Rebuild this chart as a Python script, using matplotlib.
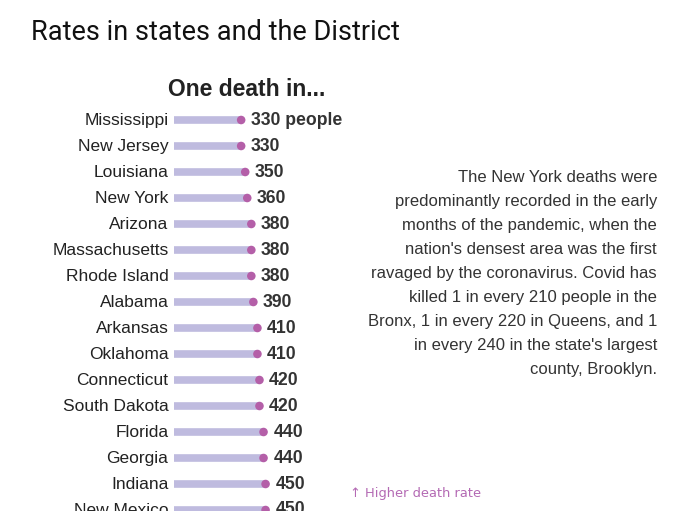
import matplotlib
matplotlib.use("Agg")
import matplotlib.pyplot as plt

states = ["Mississippi", "New Jersey", "Louisiana", "New York", "Arizona",
          "Massachusetts", "Rhode Island", "Alabama", "Arkansas", "Oklahoma",
          "Connecticut", "South Dakota", "Florida", "Georgia", "Indiana",
          "New Mexico"]
one_death_in = [330, 330, 350, 360, 380, 380, 380, 390, 410, 410,
                420, 420, 440, 440, 450, 450]

note_lines = [
    "The New York deaths were",
    "predominantly recorded in the early",
    "months of the pandemic, when the",
    "nation's densest area was the first",
    "ravaged by the coronavirus. Covid has",
    "killed 1 in every 210 people in the",
    "Bronx, 1 in every 220 in Queens, and 1",
    "in every 240 in the state's largest",
    "county, Brooklyn.",
]

W, H = 699, 511
BAR_COLOR = "#bfbbdf"
DOT_COLOR = "#b45fa8"
TEXT = "#333333"
FONT = "Liberation Sans"

fig = plt.figure(figsize=(W / 100, H / 100), dpi=100)

# bar axes: x=0 at 174px, ~0.2035 px per person; rows 26px apart starting at y=120
x0_px, px_per_unit = 174, 0.2035
xmax = 600
ax_w = xmax * px_per_unit
row0_px, row_h = 120, 26
top_px = row0_px - row_h / 2
ax = fig.add_axes([x0_px / W, 0, ax_w / W, (H - top_px) / H])
ax.set_xlim(0, xmax)
ax.set_ylim((H - row0_px) / row_h, -0.5)
ax.axis("off")

for i, (name, val) in enumerate(zip(states, one_death_in)):
    ax.plot([0, val], [i, i], color=BAR_COLOR, lw=5.5, solid_capstyle="butt",
            clip_on=False, zorder=1)
    ax.scatter([val], [i], s=38, color=DOT_COLOR, zorder=2, clip_on=False,
               edgecolor="none")
    ax.annotate(name, (0, i), xytext=(-4, -0.5), textcoords="offset points",
                ha="right", va="center", fontsize=12.5, color="#222222",
                family=FONT, annotation_clip=False)
    label = f"{val} people" if i == 0 else f"{val}"
    ax.annotate(label, (val, i), xytext=(7, 0), textcoords="offset points",
                ha="left", va="center", fontsize=12.7, color=TEXT,
                fontweight="bold", family=FONT, annotation_clip=False)

fig.text(31 / W, 1 - 32 / H, "Rates in states and the District",
         ha="left", va="center", fontsize=19.5, color="#111111",
         family="Roboto")
fig.text(247 / W, 1 - 90 / H, "One death in...", ha="center", va="center",
         fontsize=16.5, fontweight="bold", color="#222222", family=FONT)

for k, line in enumerate(note_lines):
    fig.text(657 / W, 1 - (177.5 + 24 * k) / H, line, ha="right", va="center",
             fontsize=12.0, color=TEXT, family=FONT)

fig.text(350 / W, 1 - 494 / H, "\u2191 Higher death rate", ha="left",
         va="center", fontsize=9.4, color="#b46ab4", family="DejaVu Sans")

fig.savefig("out.png", dpi=100)
